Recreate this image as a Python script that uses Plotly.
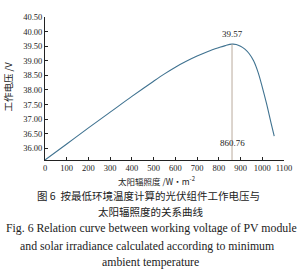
import plotly.graph_objects as go

irradiance = [0, 100, 200, 300, 400, 500, 550, 600, 650, 700, 750, 800, 830, 860.76,
              880, 900, 920, 940, 960, 980, 1000, 1020, 1040, 1055]
voltage = [35.60, 36.15, 36.70, 37.24, 37.78, 38.30, 38.55, 38.78, 38.98, 39.16, 39.32,
           39.45, 39.52, 39.57, 39.56, 39.50, 39.40, 39.24, 39.00, 38.62, 38.10, 37.52,
           36.88, 36.42]
peak_x = 860.76
peak_y = 39.57
y_ticks = [36.0, 36.5, 37.0, 37.5, 38.0, 38.5, 39.0, 39.5, 40.0, 40.5]
x_ticks = [0, 100, 200, 300, 400, 500, 600, 700, 800, 900, 1000, 1100]

L, R, T, B = 45, 17, 13, 114
W, H = 304, 274
pw, ph = W - L - R, H - T - B

def px(X):
    return (X - L) / pw

def py(Y):
    return (T + ph - Y) / ph

fig = go.Figure()
fig.add_trace(go.Scatter(x=irradiance, y=voltage, mode="lines", line=dict(color="#3f7290", width=1.1, shape="spline"),
                         showlegend=False, hoverinfo="skip"))
fig.add_trace(go.Scatter(x=[peak_x, peak_x], y=[35.6, peak_y], mode="lines",
                         line=dict(color="#b9aa9c", width=1), showlegend=False, hoverinfo="skip"))

serif = "Liberation Serif"
cjk = "Noto Sans CJK SC"

def cap(X, Y, text, family, size, angle=0):
    return dict(x=px(X), y=py(Y), xref="paper", yref="paper", text=text, showarrow=False,
                xanchor="center", yanchor="middle", textangle=angle,
                font=dict(family=family, size=size, color="#222"))

anns = [
    dict(x=peak_x, y=peak_y, xref="x", yref="y", text="39.57", showarrow=False, yshift=10,
         font=dict(family=serif, size=9, color="#222")),
    dict(x=peak_x, y=35.6, xref="x", yref="y", text="860.76", showarrow=False, yshift=17,
         font=dict(family=serif, size=9, color="#222")),
    cap(158, 181, "太阳辐照度 /W•m<sup>-2</sup>", cjk, 8.5),
    cap(150, 197, "图 6  按最低环境温度计算的光伏组件工作电压与", cjk, 10.5),
    cap(152, 213, "太阳辐照度的关系曲线", cjk, 10.5),
    cap(153, 230, "Fig. 6 Relation curve between working voltage of PV module", serif, 11.8),
    cap(148, 248, "and solar irradiance calculated according to minimum", serif, 11.8),
    cap(152, 265, "ambient temperature", serif, 11.8),
    cap(8, 84, "工作电压 /V", cjk, 9.5, -90),
]

fig.update_layout(
    width=W, height=H, margin=dict(l=L, r=R, t=T, b=B),
    paper_bgcolor="white", plot_bgcolor="white",
    annotations=anns,
    xaxis=dict(range=[0, 1100], tickvals=x_ticks, ticktext=[str(v) for v in x_ticks],
               showline=True, linecolor="#222", linewidth=1, ticks="inside", ticklen=3,
               tickcolor="#222", showgrid=False, zeroline=False,
               tickfont=dict(family=serif, size=8.5, color="#222")),
    yaxis=dict(range=[35.6, 40.5], tickvals=y_ticks, ticktext=[f"{v:.2f}" for v in y_ticks],
               showline=True, linecolor="#222", linewidth=1, ticks="inside", ticklen=3,
               tickcolor="#222", showgrid=False, zeroline=False,
               tickfont=dict(family=serif, size=8.5, color="#222")),
)
fig.write_html("out.html")
